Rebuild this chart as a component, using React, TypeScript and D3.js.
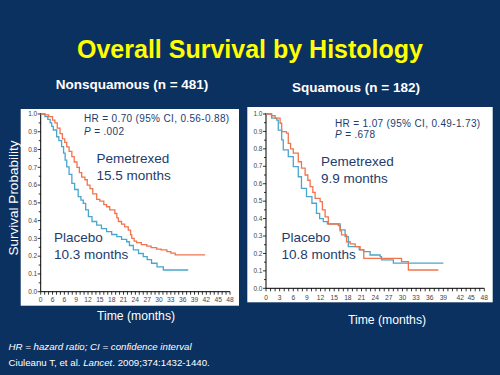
import React from "react";
import * as d3 from "d3";

// ---------- data ----------
const nonsqPemetrexed: [number, number][] = [
  [0, 1], [1, 0.995], [2, 0.985], [3, 0.965], [3.6, 0.95], [4.2, 0.92], [4.9, 0.89], [5.5, 0.86],
  [6.1, 0.84], [6.6, 0.815], [7.2, 0.79], [7.9, 0.76], [8.5, 0.73], [9.2, 0.7], [9.8, 0.67],
  [10.4, 0.645], [11.2, 0.63], [11.8, 0.6], [12.5, 0.58], [13.2, 0.55], [14.2, 0.52], [15, 0.51],
  [16, 0.49], [16.7, 0.478], [17.5, 0.46], [18.8, 0.44], [19.3, 0.415], [19.7, 0.395], [20.5, 0.38],
  [21.3, 0.365], [22.2, 0.347], [22.8, 0.32], [23.1, 0.3], [23.7, 0.285], [24.3, 0.276], [25.5, 0.265],
  [26.9, 0.257], [28, 0.248], [29.4, 0.24], [30.5, 0.235], [32, 0.226], [33, 0.217], [34.1, 0.207],
  [41.7, 0.207],
];
const nonsqPlacebo: [number, number][] = [
  [0, 1], [1.1, 0.985], [1.8, 0.97], [2.4, 0.95], [2.8, 0.93], [3.2, 0.91], [4.05, 0.872], [4.6, 0.85],
  [5.3, 0.816], [5.8, 0.78], [6.2, 0.74], [6.6, 0.703], [7.2, 0.66], [7.9, 0.61], [8.6, 0.575],
  [9.5, 0.535], [10.2, 0.515], [10.8, 0.497], [11.4, 0.46], [12.1, 0.422], [13, 0.395], [14.2, 0.375],
  [15.4, 0.355], [16.7, 0.338], [18, 0.322], [19.3, 0.31], [20.5, 0.295], [21.8, 0.281], [22.5, 0.26],
  [23.5, 0.235], [24.8, 0.215], [26, 0.197], [27, 0.18], [28.1, 0.16], [29.5, 0.14], [31.1, 0.122],
  [37.4, 0.122],
];
const sqPemetrexed: [number, number][] = [
  [0, 1], [1.2, 0.99], [2, 0.976], [3.1, 0.947], [3.45, 0.899], [4.5, 0.89], [4.9, 0.832], [5.4, 0.8],
  [6, 0.775], [7.1, 0.726], [7.8, 0.69], [8.6, 0.65], [9.2, 0.62], [9.7, 0.583], [10.3, 0.55],
  [10.8, 0.516], [11.9, 0.497], [12.4, 0.45], [13, 0.41], [13.7, 0.369], [15.9, 0.36], [16.3, 0.33],
  [16.6, 0.306], [17.7, 0.267], [18.5, 0.255], [19.6, 0.239], [20.7, 0.22], [21.5, 0.172],
  [29.8, 0.153], [31.3, 0.105], [37.9, 0.105],
];
const sqPlacebo: [number, number][] = [
  [0, 1], [1.25, 0.976], [2.35, 0.965], [2.7, 0.908], [3.45, 0.851], [3.8, 0.794], [4.9, 0.755],
  [6, 0.698], [7.1, 0.64], [7.8, 0.573], [8.9, 0.526], [10.1, 0.488], [11.1, 0.43], [11.8, 0.4],
  [12.6, 0.383], [13.5, 0.37], [15.5, 0.37], [16.3, 0.335], [17.4, 0.296], [18.1, 0.239], [19.6, 0.239],
  [20.5, 0.22], [21.5, 0.21], [22.9, 0.191], [25.1, 0.182], [25.4, 0.163], [28, 0.144], [39, 0.144],
];

const yTickValues = [0, 0.1, 0.2, 0.3, 0.4, 0.5, 0.6, 0.7, 0.8, 0.9, 1.0];
const leftXTickLabels = ["0", "6", "6", "9", "12", "15", "18", "21", "24", "27", "30", "33", "36", "39", "42", "45", "48"];
const leftXTickPos = [0, 3, 6, 9, 12, 15, 18, 21, 24, 27, 30, 33, 36, 39, 42, 45, 48];
const rightXTickLabels = ["0", "3", "6", "9", "12", "15", "18", "21", "24", "27", "30", "33", "36", "39", "42", "45", "48"];
const rightXTickPos = [0, 3, 6, 9, 12, 15, 18, 21, 24, 27, 30, 33, 36, 39, 42.7, 45.1, 48];

const FONT = "'Liberation Sans', Arial, Helvetica, sans-serif";
const ORANGE = "#f0744e";
const BLUE = "#4aa6cc";
const NAVY_TEXT = "#1d3c6e";

type PanelProps = {
  panel: { x: number; y: number; w: number; h: number };
  px0: number; px1: number; py0: number; py1: number;
  pem: [number, number][]; pla: [number, number][];
  xLabels: string[]; xPos: number[];
  labelDy: number;
  hr: string; p: string; hrX: number; hrY: number; pDy: number;
  pemText: string; pemX: number; pemY: number;
  plaText: string; plaX: number; plaY: number;
  timeX: number; timeY: number;
};

function Panel(props: PanelProps) {
  const { panel, px0, px1, py0, py1 } = props;
  const x = d3.scaleLinear().domain([0, 48]).range([px0, px1]);
  const y = d3.scaleLinear().domain([0, 1]).range([py0, py1]);
  const line = d3.line<[number, number]>().x(d => x(d[0])).y(d => y(d[1])).curve(d3.curveStepAfter);
  const months = d3.range(0, 49, 1);
  const yMinor = d3.range(0, 1.001, 0.05);
  return (
    <g>
      <rect x={panel.x} y={panel.y} width={panel.w} height={panel.h} fill="#ffffff" />
      {/* y axis */}
      <line x1={px0} x2={px0} y1={y(1) - 1} y2={y(0)} stroke="#000" strokeWidth={1} />
      {yMinor.map((v, i) => (
        <line key={"ym" + i} x1={px0 - (i % 2 === 0 ? 3 : 2)} x2={px0} y1={y(v)} y2={y(v)} stroke="#000" strokeWidth={0.8} />
      ))}
      {yTickValues.map((v, i) => (
        <text key={"yl" + i} x={px0 - 3.5} y={y(v) + 2.2} fontSize={6.5} fill="#444" textAnchor="end" fontFamily={FONT}>
          {v.toFixed(1)}
        </text>
      ))}
      {/* x axis */}
      <line x1={px0} x2={x(48)} y1={y(0)} y2={y(0)} stroke="#000" strokeWidth={1} />
      {months.map(m => (
        <line key={"xm" + m} x1={x(m)} x2={x(m)} y1={y(0)} y2={y(0) + 3} stroke="#000" strokeWidth={0.8} />
      ))}
      {props.xLabels.map((l, i) => (
        <text key={"xl" + i} x={x(props.xPos[i])} y={y(0) + props.labelDy} fontSize={6.7} fill="#444" textAnchor="middle" fontFamily={FONT}>
          {l}
        </text>
      ))}
      {/* curves */}
      <path d={line(props.pla) || ""} fill="none" stroke={BLUE} strokeWidth={1.3} />
      <path d={line(props.pem) || ""} fill="none" stroke={ORANGE} strokeWidth={1.3} />
      {/* annotations */}
      <text x={props.hrX} y={props.hrY} fontSize={10} letterSpacing={0.35} fill={NAVY_TEXT} fontFamily={FONT}>{props.hr}</text>
      <text x={props.hrX} y={props.hrY + props.pDy} fontSize={10} letterSpacing={0.35} fill={NAVY_TEXT} fontFamily={FONT}>
        <tspan fontStyle="italic">P</tspan> = {props.p}
      </text>
      <text x={props.pemX} y={props.pemY} fontSize={13.5} fill={NAVY_TEXT} fontFamily={FONT}>
        <tspan x={props.pemX}>Pemetrexed</tspan>
        <tspan x={props.pemX} dy={17}>{props.pemText}</tspan>
      </text>
      <text x={props.plaX} y={props.plaY} fontSize={13.5} fill={NAVY_TEXT} fontFamily={FONT}>
        <tspan x={props.plaX}>Placebo</tspan>
        <tspan x={props.plaX} dy={17}>{props.plaText}</tspan>
      </text>
      <text x={props.timeX} y={props.timeY} fontSize={12.2} fill="#ffffff" textAnchor="middle" fontFamily={FONT}>
        Time (months)
      </text>
    </g>
  );
}

export default function App() {
  return (
    <div style={{ position: "fixed", left: 0, top: 0 }}>
      <svg width={500} height={375} style={{ display: "block" }}>
        <rect x={0} y={0} width={500} height={375} fill="#0b3161" />
        <text x={250} y={58} fontSize={25} fontWeight="bold" fill="#ffff00" textAnchor="middle" fontFamily={FONT}>
          Overall Survival by Histology
        </text>
        <text x={132} y={89} fontSize={13.5} fontWeight="bold" fill="#ffffff" textAnchor="middle" fontFamily={FONT}>
          Nonsquamous (n = 481)
        </text>
        <text x={356} y={92} fontSize={13.5} fontWeight="bold" fill="#ffffff" textAnchor="middle" fontFamily={FONT}>
          Squamous (n = 182)
        </text>
        <text transform="translate(18,198) rotate(-90)" fontSize={13.5} fill="#ffffff" textAnchor="middle" fontFamily={FONT}>
          Survival Probability
        </text>
        <Panel
          panel={{ x: 20.7, y: 109, w: 218.3, h: 196.7 }}
          px0={40.7} px1={230} py0={291.7} py1={114}
          pem={nonsqPemetrexed} pla={nonsqPlacebo}
          xLabels={leftXTickLabels} xPos={leftXTickPos} labelDy={10}
          hr="HR = 0.70 (95% CI, 0.56-0.88)" p=".002" hrX={84} hrY={121.5} pDy={13.5}
          pemText="15.5 months" pemX={96.5} pemY={163}
          plaText="10.3 months" plaX={54} plaY={241.5}
          timeX={136} timeY={320}
        />
        <Panel
          panel={{ x: 247.3, y: 107, w: 245.4, h: 195.3 }}
          px0={266} px1={484.3} py0={288.3} py1={114}
          pem={sqPemetrexed} pla={sqPlacebo}
          xLabels={rightXTickLabels} xPos={rightXTickPos} labelDy={11.5}
          hr="HR = 1.07 (95% CI, 0.49-1.73)" p=".678" hrX={335} hrY={126.8} pDy={11.2}
          pemText="9.9 months" pemX={321} pemY={165.5}
          plaText="10.8 months" plaX={281.5} plaY={241.5}
          timeX={387} timeY={323.5}
        />
        <text x={8.5} y={350} fontSize={9.7} fill="#ffffff" fontStyle="italic" fontFamily={FONT}>
          HR = hazard ratio; CI = confidence interval
        </text>
        <text x={8.5} y={366} fontSize={9.7} fill="#ffffff" fontFamily={FONT}>
          Ciuleanu T, et al. <tspan fontStyle="italic">Lancet</tspan>. 2009;374:1432-1440.
        </text>
      </svg>
    </div>
  );
}
